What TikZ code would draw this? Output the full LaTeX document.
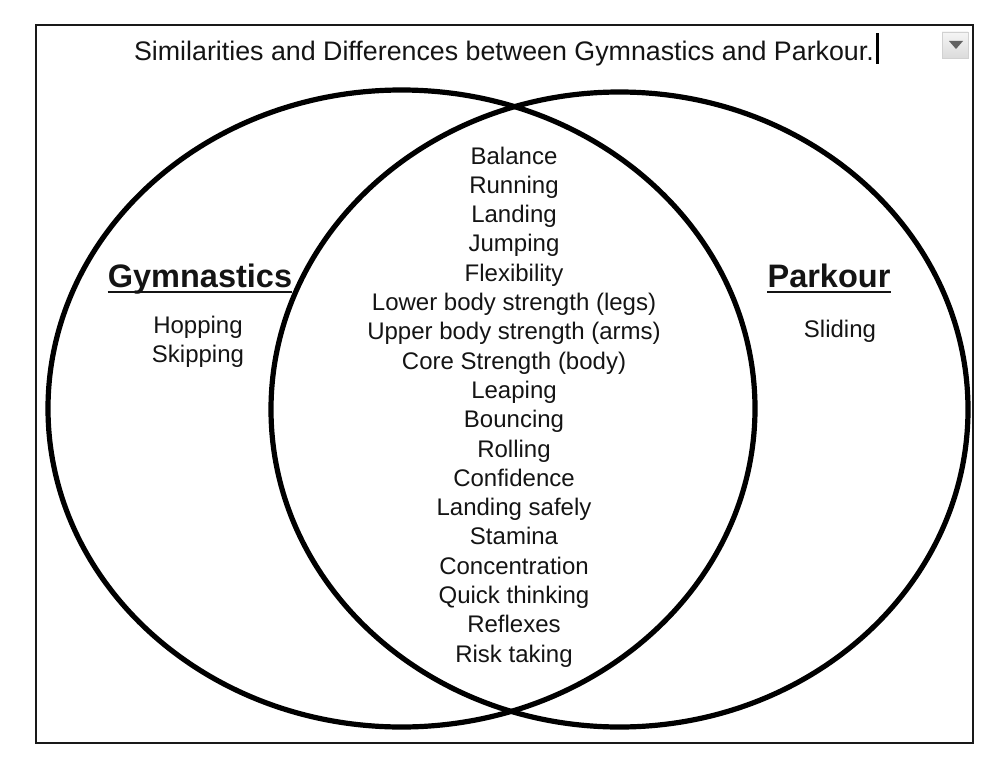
\documentclass[tikz,border=0pt]{standalone}
\usepackage{fontspec}
\setmainfont{Liberation Sans}
\begin{document}
\begin{tikzpicture}[x=1pt,y=-1pt,
  txt/.style={inner sep=0pt,anchor=base,text=black!92,font=\fontsize{24}{28}\selectfont},
  head/.style={inner sep=0pt,anchor=base,text=black!92,font=\fontsize{32.5}{38}\selectfont\bfseries},
  ttl/.style={inner sep=0pt,anchor=base,text=black!92,font=\fontsize{26.8}{32}\selectfont},
  venn/.style={line width=5.2pt,draw=black},
  uline/.style={line width=2.6pt,black!92},
  frame/.style={line width=2pt,draw=black!90}]
\useasboundingbox (0,0) rectangle (1000,765);
\draw[frame] (36,25) rectangle (973,743);
% title and text cursor
\node[ttl] (title) at (504,61) {Similarities and Differences between Gymnastics and Parkour.};
\fill[black] ([xshift=1.5pt,yshift=-3pt]title.base east) rectangle ++(3,-31);
% dropdown icon
\node[draw=black!18,top color=black!4,bottom color=black!14,minimum size=26pt,inner sep=0pt] (dd) at (955,45) {};
\fill[black!62] (949,41) -- (963,41) -- (956,49) -- cycle;
% circles
\draw[venn] (401.5,408.5) ellipse [x radius=353.5pt, y radius=318.5pt];
\draw[venn] (619.5,409.5) ellipse [x radius=348.5pt, y radius=317.5pt];
% headings
\node[head] (gym) at (200,287) {Gymnastics};
\draw[uline] ([yshift=-5pt]gym.base west) -- ([yshift=-5pt]gym.base east);
\node[head] (par) at (829,287) {Parkour};
\draw[uline] ([yshift=-5pt]par.base west) -- ([yshift=-5pt]par.base east);
% left only
\node[txt] (hop) at (198,333) {Hopping};
\node[txt] (skip) at (198,362) {Skipping};
% right only
\node[txt] (slide) at (840,337) {Sliding};
% shared
\foreach \t [count=\i from 0] in {Balance,Running,Landing,Jumping,Flexibility,
  Lower body strength (legs),Upper body strength (arms),Core Strength (body),
  Leaping,Bouncing,Rolling,Confidence,Landing safely,Stamina,Concentration,
  Quick thinking,Reflexes,Risk taking}
  \node[txt] (c\i) at (514,164+29.3*\i) {\t};
\end{tikzpicture}
\end{document}
